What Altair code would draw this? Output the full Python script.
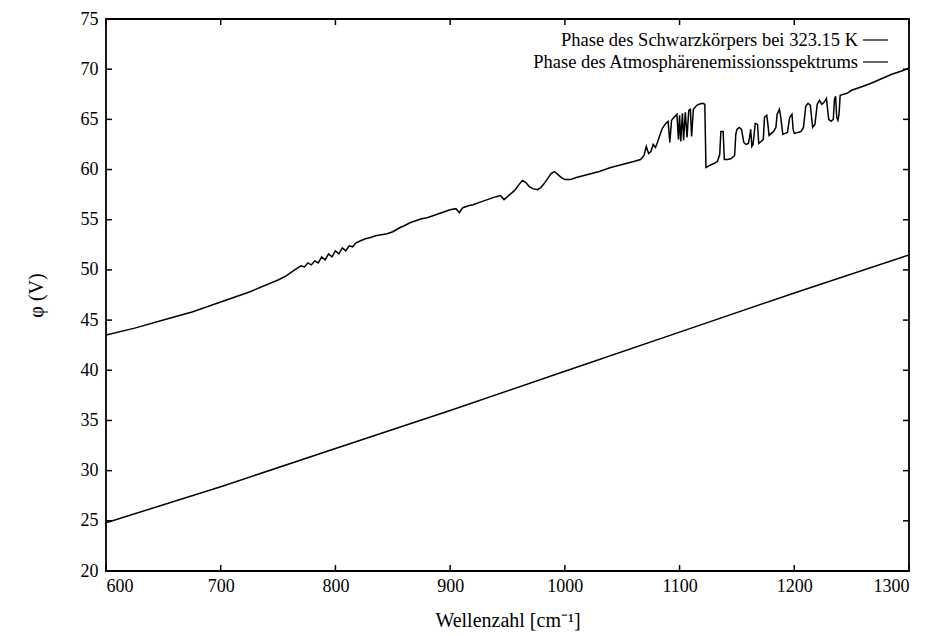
import altair as alt
import pandas as pd

# Upper curve: phase of the black body at 323.15 K
wn_bb = [600, 625, 650, 675, 700, 725, 750, 757, 762, 767, 770, 773, 776, 779, 782, 785, 788, 791, 794, 797,
         800, 803, 806, 809, 812, 815, 818, 822, 826, 830, 835, 840, 845, 850, 853, 856, 860, 865, 870, 875,
         880, 885, 890, 895, 900, 905, 908, 911, 916, 920, 925, 930, 935, 940, 944, 947, 950, 953, 956, 960,
         963, 966, 969, 972, 976, 979, 982, 985, 988, 991, 994, 997, 1000, 1005, 1010, 1020, 1030, 1040, 1050, 1060,
         1066, 1069, 1071, 1073, 1075, 1077, 1079, 1081, 1083, 1085, 1088, 1090, 1091.5, 1093, 1096, 1097.7, 1099, 1100,
         1101, 1102.5, 1103.5, 1105, 1106.5, 1108, 1109.4, 1110.5, 1112, 1115, 1117, 1120, 1122, 1123, 1126, 1130,
         1133, 1135, 1136, 1138, 1139, 1142, 1145, 1148, 1149, 1150, 1152, 1154, 1156, 1158, 1160, 1161, 1162, 1163,
         1164, 1165, 1166, 1168, 1169, 1171, 1173, 1174, 1176, 1177, 1178, 1180, 1182, 1184, 1185, 1187, 1188, 1190,
         1192, 1194, 1196, 1198, 1199, 1200, 1203, 1206, 1208, 1210, 1212, 1214, 1216, 1218, 1220, 1222, 1224, 1226,
         1228, 1230, 1232, 1234, 1235, 1236, 1237, 1238, 1239, 1240, 1243, 1246, 1250, 1255, 1260, 1267, 1275, 1285,
         1293, 1300]
phase_bb = [43.5, 44.2, 45.0, 45.8, 46.8, 47.8, 49.0, 49.4, 49.8, 50.2, 50.4, 50.3, 50.7, 50.5, 50.9, 50.7, 51.3, 51.0, 51.6, 51.3,
            51.9, 51.6, 52.2, 51.9, 52.4, 52.3, 52.7, 52.9, 53.1, 53.2, 53.4, 53.5, 53.6, 53.8, 54.0, 54.2, 54.4, 54.7, 54.9, 55.1,
            55.2, 55.4, 55.6, 55.8, 56.0, 56.1, 55.7, 56.2, 56.4, 56.5, 56.7, 56.9, 57.1, 57.3, 57.4, 57.0, 57.3, 57.6, 57.9, 58.5,
            58.9, 58.7, 58.3, 58.1, 58.0, 58.2, 58.6, 59.1, 59.6, 59.8, 59.5, 59.2, 59.0, 59.0, 59.2, 59.5, 59.8, 60.2, 60.5, 60.8,
            61.0, 61.4, 62.3, 61.6, 61.8, 62.5, 62.2, 62.8, 63.5, 64.1, 64.6, 64.8, 62.7, 64.9, 65.3, 65.5, 63.0, 65.4,
            62.8, 65.6, 62.9, 65.7, 63.2, 65.9, 66.0, 63.3, 66.0, 66.4, 66.5, 66.6, 66.5, 60.2, 60.4, 60.6,
            60.8, 61.5, 63.8, 63.8, 61.0, 61.0, 61.1, 61.4, 63.5, 64.0, 64.2, 64.0, 62.7, 62.5, 62.6, 63.2, 64.0, 62.3,
            62.5, 63.5, 64.6, 64.5, 62.6, 62.8, 63.0, 65.2, 65.4, 64.5, 63.4, 63.6, 63.8, 64.2, 65.5, 66.0, 65.4, 63.5,
            63.6, 63.7, 65.2, 65.5, 64.0, 63.6, 63.7, 63.8, 64.2, 66.3, 66.6, 66.4, 64.2, 64.5, 66.5, 66.9, 66.5, 66.7,
            67.1, 65.0, 64.8, 65.0, 67.0, 67.3, 65.2, 64.9, 65.5, 67.4, 67.5, 67.6, 67.9, 68.1, 68.3, 68.6, 69.0, 69.5,
            69.8, 70.1]

# Lower curve: phase of the atmospheric emission spectrum
wn_atm = [600, 700, 800, 900, 1000, 1100, 1200, 1300]
phase_atm = [24.8, 28.4, 32.2, 36.0, 39.9, 43.8, 47.7, 51.5]

series_names = ["Phase des Schwarzkörpers bei 323.15 K", "Phase des Atmosphärenemissionsspektrums"]
x_ticks = [600, 700, 800, 900, 1000, 1100, 1200, 1300]
y_ticks = [20, 25, 30, 35, 40, 45, 50, 55, 60, 65, 70, 75]

W, H = 803, 552
FONT = "Liberation Serif"

df = pd.concat([
    pd.DataFrame({"wn": wn_bb, "phase": phase_bb, "series": series_names[0]}),
    pd.DataFrame({"wn": wn_atm, "phase": phase_atm, "series": series_names[1]}),
], ignore_index=True)

xs = alt.Scale(domain=[600, 1300], nice=False, zero=False)
ys = alt.Scale(domain=[20, 75], nice=False, zero=False)
axis_style = dict(ticks=False, domain=False, grid=False, format="d",
                  labelFont=FONT, labelFontSize=18, labelColor="black",
                  titleFont=FONT, titleFontSize=20, titleFontWeight="normal", titleColor="black")
x_axis = alt.Axis(values=x_ticks, title="Wellenzahl [cm⁻¹]", labelPadding=6, titlePadding=15, **axis_style)
y_axis = alt.Axis(values=y_ticks, title="φ (V)", labelPadding=8, titlePadding=34, **axis_style)

lines = alt.Chart(df).mark_line(color="black", strokeWidth=1.5, clip=True).encode(
    x=alt.X("wn:Q", scale=xs, axis=x_axis),
    y=alt.Y("phase:Q", scale=ys, axis=y_axis),
    detail="series:N",
)

xt = pd.DataFrame({"wn": x_ticks})
yt = pd.DataFrame({"phase": y_ticks})
tick_len = 6
ticks = [
    alt.Chart(yt).mark_rule(color="black", strokeWidth=1.5).encode(
        y=alt.Y("phase:Q", scale=ys, axis=y_axis), x=alt.value(0), x2=alt.value(tick_len)),
    alt.Chart(yt).mark_rule(color="black", strokeWidth=1.5).encode(
        y=alt.Y("phase:Q", scale=ys, axis=y_axis), x=alt.value(W - tick_len), x2=alt.value(W)),
    alt.Chart(xt).mark_rule(color="black", strokeWidth=1.5).encode(
        x=alt.X("wn:Q", scale=xs, axis=x_axis), y=alt.value(H - tick_len), y2=alt.value(H)),
    alt.Chart(xt).mark_rule(color="black", strokeWidth=1.5).encode(
        x=alt.X("wn:Q", scale=xs, axis=x_axis), y=alt.value(0), y2=alt.value(tick_len)),
]

frame = alt.Chart(pd.DataFrame({"t": [0]})).mark_rect(fill=None, stroke="black", strokeWidth=1.8).encode(
    x=alt.value(0), x2=alt.value(W), y=alt.value(0), y2=alt.value(H))

legend = []
for i, name in enumerate(series_names):
    yy = 21 + 22 * i
    legend.append(alt.Chart(pd.DataFrame({"t": [name]})).mark_text(
        align="right", baseline="middle", font=FONT, fontSize=18.5, color="black").encode(
        x=alt.value(752), y=alt.value(yy), text="t:N"))
    legend.append(alt.Chart(pd.DataFrame({"t": [name]})).mark_rule(color="black", strokeWidth=1.2).encode(
        x=alt.value(757), x2=alt.value(782), y=alt.value(yy)))

chart = alt.layer(lines, *ticks, frame, *legend).properties(
    width=W, height=H, background="white",
    autosize=alt.AutoSizeParams(type="none"),
    padding={"left": 106, "top": 19, "right": 27, "bottom": 65},
).configure_view(stroke=None)

chart.save("out.html", embed_options={"renderer": "svg", "actions": False})
